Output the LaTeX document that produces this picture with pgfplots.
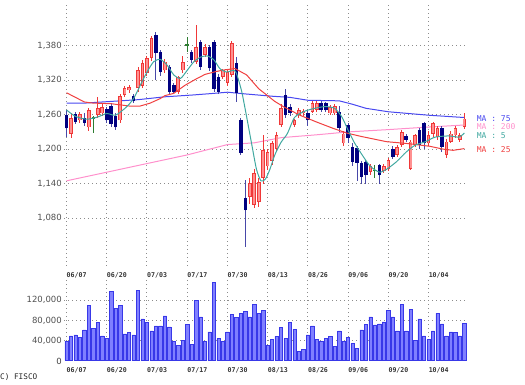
\documentclass[border=0pt]{standalone}
\usepackage{fontspec}
\setmainfont{DejaVu Sans}
\setmonofont{DejaVu Sans Mono}
\usepackage{pgfplots}
\usepackage{pgfplotstable}
\pgfplotsset{compat=1.18}

\definecolor{upfill}{HTML}{FF9090}
\definecolor{upedge}{HTML}{F03838}
\definecolor{dnfill}{HTML}{000080}
\definecolor{dnwick}{HTML}{4848A8}
\definecolor{dojig}{HTML}{2E7D32}
\definecolor{mafive}{HTML}{40A8A0}
\definecolor{matwfive}{HTML}{F04040}
\definecolor{masevfive}{HTML}{4848F0}
\definecolor{matwohund}{HTML}{FF90CC}
\definecolor{volfill}{HTML}{8080FF}
\definecolor{voledge}{HTML}{3838E8}
\definecolor{gridc}{HTML}{8C8C8C}
\definecolor{tickc}{HTML}{505050}

\pgfplotstableread{
i o h l c
1 1227 1262 1220 1254
3 1250 1265 1245 1261
5 1238 1272 1232 1268
7 1259 1290 1255 1271
8 1262 1278 1258 1273
12 1250 1296 1245 1292
13 1294 1310 1290 1306
14 1302 1312 1298 1308
16 1306 1342 1300 1337
17 1310 1355 1306 1350
18 1332 1362 1328 1358
19 1358 1397 1354 1393
22 1337 1356 1333 1352
25 1300 1328 1296 1325
26 1337 1362 1333 1351
29 1351 1416 1348 1378
31 1364 1382 1360 1378
35 1325 1340 1322 1337
36 1315 1338 1310 1334
37 1329 1388 1325 1384
41 1117 1150 1105 1141
42 1103 1165 1098 1158
43 1108 1150 1100 1143
44 1150 1224 1140 1198
45 1170 1200 1163 1195
46 1180 1215 1172 1210
47 1201 1230 1195 1224
48 1242 1278 1238 1271
51 1242 1253 1238 1250
52 1259 1272 1255 1268
53 1262 1270 1258 1266
55 1265 1283 1262 1280
56 1268 1283 1265 1280
59 1262 1277 1260 1273
60 1262 1278 1260 1275
62 1210 1232 1205 1227
68 1160 1175 1155 1170
71 1162 1175 1158 1170
72 1166 1185 1162 1181
74 1190 1207 1186 1204
75 1207 1233 1203 1230
77 1166 1216 1163 1213
78 1207 1227 1203 1224
81 1210 1232 1205 1224
82 1227 1248 1222 1245
83 1221 1240 1216 1236
85 1190 1218 1185 1213
86 1213 1232 1210 1227
87 1224 1240 1220 1236
88 1216 1228 1212 1224
89 1239 1262 1235 1253
}\upt

\pgfplotstableread{
i o h l c
0 1259 1268 1222 1236
2 1261 1264 1243 1247
4 1255 1262 1240 1246
9 1270 1274 1245 1250
10 1275 1280 1238 1244
11 1258 1262 1234 1238
15 1292 1296 1280 1283
20 1398 1403 1320 1367
21 1369 1372 1328 1334
23 1343 1346 1296 1300
24 1311 1315 1296 1300
28 1369 1372 1350 1355
30 1386 1390 1338 1343
32 1378 1381 1336 1341
33 1386 1389 1300 1305
34 1325 1330 1296 1300
38 1350 1360 1282 1297
39 1250 1254 1190 1193
40 1115 1146 1030 1094
49 1294 1305 1255 1259
50 1274 1278 1258 1262
54 1262 1268 1240 1250
57 1280 1283 1265 1268
58 1280 1282 1265 1268
61 1265 1275 1230 1236
63 1242 1245 1210 1219
64 1203 1210 1170 1178
65 1202 1205 1145 1176
66 1176 1180 1140 1152
67 1178 1182 1140 1155
70 1172 1175 1140 1155
73 1201 1205 1183 1187
76 1223 1226 1212 1216
79 1233 1236 1200 1207
80 1245 1248 1200 1210
84 1236 1240 1195 1204
}\dnt

\pgfplotstableread{
i o h l c
6 1254 1257 1228 1254
27 1381 1395 1369 1381
69 1163 1172 1150 1163
}\dojit

\pgfplotstableread{
i v
0 1268
2 1257
4.5 1252
7 1256
9 1262
11 1259
13.5 1274
15 1288
16.5 1311
18 1334
19.5 1352
21 1356
22.5 1346
24 1329
25.5 1323
27 1337
28.5 1352
30 1360
31.5 1362
33 1355
34.3 1340
35.8 1334
37.3 1337
38 1332
39.2 1300
40.3 1256
41.4 1210
42.5 1165
43.5 1145
44.5 1148
45.5 1165
46.6 1190
48 1212
49.4 1227
51 1255
53 1265
55 1270
57.8 1274
60 1271
61.6 1256
63 1233
64.5 1210
66.4 1187
68 1170
70 1160
71.6 1165
73.8 1178
76 1195
78 1207
80.3 1213
82.5 1221
85.5 1223
87.8 1221
89 1228
}\mafivet

\pgfplotstableread{
i v
0 1298
4 1282
6 1280
10 1279
14 1275
16.5 1275
18.7 1280
21 1288
22 1293
24 1297
26.5 1311
29 1322
31 1330
33.5 1335
35.5 1338
37.7 1340
40.3 1329
43 1305
46.6 1283
48.5 1274
52.2 1259
56 1247
59.7 1236
62.7 1228
66 1222
71.6 1213
76 1210
81.3 1205
84.3 1200
86.5 1198
89 1201
}\matwfivet

\pgfplotstableread{
i v
0 1280
4 1280
10 1283
16 1286
22 1291
28 1294
33 1297
36 1299
40 1296
46 1292
50 1290
54 1285
61 1284
64 1278
67 1271
72 1265
81 1259
89 1255
}\masevfivet

\pgfplotstableread{
i v
0 1145
9 1160
18 1175
27 1190
36 1208
42 1211
48 1220
56 1225
63 1230
72 1234
80 1238
89 1242
}\matwohundt

\pgfplotstableread{
i v
0 39000
1 49000
2 51000
3 46000
4 61000
5 109000
6 64000
7 76000
8 49000
9 44000
10 137000
11 104000
12 109000
13 53000
14 56000
15 51000
16 139000
17 83000
18 76000
19 59000
20 69000
21 69000
22 89000
23 67000
24 38000
25 31000
26 41000
27 72000
28 33000
29 119000
30 87000
31 39000
32 57000
33 156000
34 44000
35 39000
36 57000
37 92000
38 86000
39 93000
40 97000
41 87000
42 111000
43 93000
44 99000
45 31000
46 43000
47 48000
48 66000
49 44000
50 76000
51 62000
52 18000
53 23000
54 51000
55 69000
56 43000
57 38000
58 44000
59 48000
60 28000
61 59000
62 39000
63 46000
64 34000
65 24000
66 61000
67 72000
68 87000
69 71000
70 73000
71 77000
72 99000
73 87000
74 59000
75 111000
76 59000
77 102000
78 41000
79 83000
80 49000
81 42000
82 59000
83 94000
84 73000
85 49000
86 57000
87 56000
88 49000
89 74000
}\volt

\pgfplotsset{
  chartbase/.style={
    scale only axis, width=402.7pt,
    xmin=-0.5, xmax=89.6,
    axis line style={draw=none}, tick style={draw=none},
    xtick={0,9,18,27,36,45,54,63,72,81},
    xticklabels={06/07,06/20,07/03,07/17,07/30,08/13,08/26,09/06,09/20,10/04},
    grid=major,
    major grid style={gridc, line width=1pt, dash pattern=on 1pt off 3pt},
    yticklabel style={font=\fontsize{8.5}{10}\selectfont, text=tickc, inner sep=0pt, xshift=-2.3pt},
    xticklabel style={font=\ttfamily\bfseries\fontsize{6.6}{8}\selectfont, text=black!80, anchor=north west, inner sep=0pt},
    /pgf/number format/assume math mode=true,
    clip mode=individual,
  },
  nomark/.style={only marks, mark=*, mark size=0pt, mark options={draw=none, fill=none}},
}

\begin{document}
\begin{tikzpicture}
\useasboundingbox (0,0) rectangle (525pt,385pt);

% price panel
\begin{axis}[chartbase,
  at={(64.3pt,119pt)}, anchor=south west, height=263pt,
  ymin=997, ymax=1454,
  ytick={1080,1140,1200,1260,1320,1380},
  yticklabels={{1,080},{1,140},{1,200},{1,260},{1,320},{1,380}},
  xticklabel style={yshift=-6pt},
]
% moving averages underneath
\addplot[matwohund, line width=1pt] table[x=i,y=v]{\matwohundt};
\addplot[masevfive, line width=1pt] table[x=i,y=v]{\masevfivet};
% wicks
\addplot[nomark, error bars/.cd, y dir=both, y explicit, error mark=none,
  error bar style={line width=1pt, draw=upedge, solid}]
  table[x=i, y=c, y error plus expr=\thisrow{h}-\thisrow{c}, y error minus expr=\thisrow{c}-\thisrow{l}]{\upt};
\addplot[nomark, error bars/.cd, y dir=both, y explicit, error mark=none,
  error bar style={line width=1pt, draw=dnwick, solid}]
  table[x=i, y=c, y error plus expr=\thisrow{h}-\thisrow{c}, y error minus expr=\thisrow{c}-\thisrow{l}]{\dnt};
\addplot[nomark, error bars/.cd, y dir=both, y explicit, error mark=none,
  error bar style={line width=1pt, draw=dojig, solid}]
  table[x=i, y=c, y error plus expr=\thisrow{h}-\thisrow{c}, y error minus expr=\thisrow{c}-\thisrow{l}]{\dojit};
% bodies
\addplot[nomark, error bars/.cd, y dir=plus, y explicit, error mark=none,
  error bar style={line width=3.6pt, draw=upedge, solid}]
  table[x=i, y=o, y error plus expr=\thisrow{c}-\thisrow{o}]{\upt};
\addplot[nomark, error bars/.cd, y dir=plus, y explicit, error mark=none,
  error bar style={line width=1.8pt, draw=upfill, solid, shorten <=0.8pt, shorten >=0.8pt}]
  table[x=i, y=o, y error plus expr=\thisrow{c}-\thisrow{o}]{\upt};
\addplot[nomark, error bars/.cd, y dir=plus, y explicit, error mark=none,
  error bar style={line width=3.6pt, draw=dnfill, solid}]
  table[x=i, y=c, y error plus expr=\thisrow{o}-\thisrow{c}]{\dnt};
\addplot[only marks, mark=-, mark size=1.8pt, mark options={line width=1.2pt, draw=dojig}]
  table[x=i, y=c]{\dojit};
% moving averages on top
\addplot[matwfive, line width=1pt] table[x=i,y=v]{\matwfivet};
\addplot[mafive, line width=1pt, smooth, tension=0.4] table[x=i,y=v]{\mafivet};
% labels
\node[anchor=west, inner sep=0pt, text=masevfive, font=\ttfamily\fontsize{8}{9}\selectfont, xshift=9.7pt] at (axis cs:89.6,1253) {MA : 75};
\node[anchor=west, inner sep=0pt, text=matwohund, font=\ttfamily\fontsize{8}{9}\selectfont, xshift=9.7pt] at (axis cs:89.6,1239) {MA : 200};
\node[anchor=west, inner sep=0pt, text=mafive, font=\ttfamily\fontsize{8}{9}\selectfont, xshift=9.7pt] at (axis cs:89.6,1224) {MA : 5};
\node[anchor=west, inner sep=0pt, text=matwfive, font=\ttfamily\fontsize{8}{9}\selectfont, xshift=9.7pt] at (axis cs:89.6,1199) {MA : 25};
\end{axis}

% volume panel
\begin{axis}[chartbase,
  at={(64.3pt,24.3pt)}, anchor=south west, height=80.7pt,
  ymin=0, ymax=160000,
  ytick={40000,80000,120000},
  yticklabels={{40,000},{80,000},{120,000}},
  scaled y ticks=false,
  xticklabel style={yshift=-2.5pt},
  ybar, bar width=3.3pt,
]
\addplot[fill=volfill, draw=voledge, line width=0.6pt] table[x=i,y=v]{\volt};
\end{axis}

\node[anchor=east, inner sep=0pt, text=black!75, font=\fontsize{8.5}{10}\selectfont] at (62pt,23.5pt) {0};
\node[anchor=west, inner sep=0pt, font=\ttfamily\fontsize{7.7}{9}\selectfont, text=black!85] at (0pt,8pt) {C) FISCO};
\end{tikzpicture}
\end{document}
